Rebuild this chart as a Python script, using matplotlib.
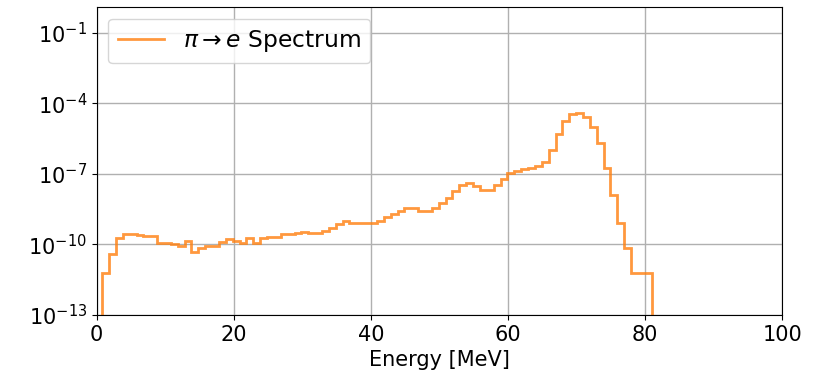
import numpy as np
import matplotlib
matplotlib.use("Agg")
import matplotlib.pyplot as plt
from matplotlib.ticker import NullLocator, FixedLocator
from matplotlib.lines import Line2D

# Bin edges (MeV) and spectrum content per bin
bin_edges = np.linspace(0.8, 80.95, 81)
spectrum = [
    6.3e-12, 3.9e-11, 1.8e-10, 2.75e-10, 2.75e-10, 2.5e-10, 2.2e-10, 2.2e-10, 1.1e-10, 1.2e-10,
    1.0e-10, 8.7e-11, 1.4e-10, 4.6e-11, 7.2e-11, 8.5e-11, 8.5e-11, 1.3e-10, 1.7e-10, 1.4e-10,
    1.2e-10, 1.8e-10, 1.1e-10, 1.8e-10, 2.1e-10, 2.1e-10, 2.75e-10, 2.75e-10, 3.1e-10, 3.5e-10,
    3.1e-10, 3.1e-10, 3.8e-10, 5.2e-10, 7.2e-10, 1.0e-9, 8.5e-10, 8.5e-10, 8.5e-10, 8.5e-10,
    1.0e-9, 1.5e-9, 2.0e-9, 2.7e-9, 3.4e-9, 3.4e-9, 2.7e-9, 2.7e-9, 3.6e-9, 5.5e-9,
    8.9e-9, 1.8e-8, 3.3e-8, 3.9e-8, 3.0e-8, 2.0e-8, 2.0e-8, 3.3e-8, 5.9e-8, 1.05e-7,
    1.35e-7, 1.6e-7, 1.8e-7, 2.1e-7, 3.2e-7, 1.0e-6, 5.1e-6, 1.7e-5, 3.6e-5, 4.0e-5,
    2.6e-5, 9.8e-6, 1.95e-6, 1.8e-7, 1.2e-8, 7.8e-10, 6.8e-11, 6.3e-12, 6.3e-12, 6.3e-12,
]
y_ticks = [1e-13, 1e-10, 1e-7, 1e-4, 1e-1]
x_ticks = [0, 20, 40, 60, 80, 100]
label = r"$\pi \rightarrow e$ Spectrum"
color = "#ff7f0e"

fig = plt.figure(figsize=(8.3, 3.8), dpi=100)
ax = fig.add_axes([0.1165, 0.171, 0.826, 0.811])

centers = 0.5 * (bin_edges[:-1] + bin_edges[1:])
ax.hist(centers, bins=bin_edges, weights=spectrum, histtype="step",
        color=color, alpha=0.8, linewidth=2)

ax.set_yscale("log")
ax.set_xlim(0, 100)
ax.set_ylim(1e-13, 10**0.09)
ax.yaxis.set_major_locator(FixedLocator(y_ticks))
ax.yaxis.set_minor_locator(NullLocator())
ax.set_xticks(x_ticks)
ax.tick_params(labelsize=15)
ax.grid(True, color="#b0b0b0", linewidth=1)
ax.set_axisbelow(True)
ax.set_xlabel("Energy [MeV]", fontsize=15)
handle = Line2D([], [], color=color, alpha=0.8, linewidth=2)
ax.legend([handle], [label], loc="upper left", fontsize=16.8)

fig.savefig("out.png", dpi=100)
